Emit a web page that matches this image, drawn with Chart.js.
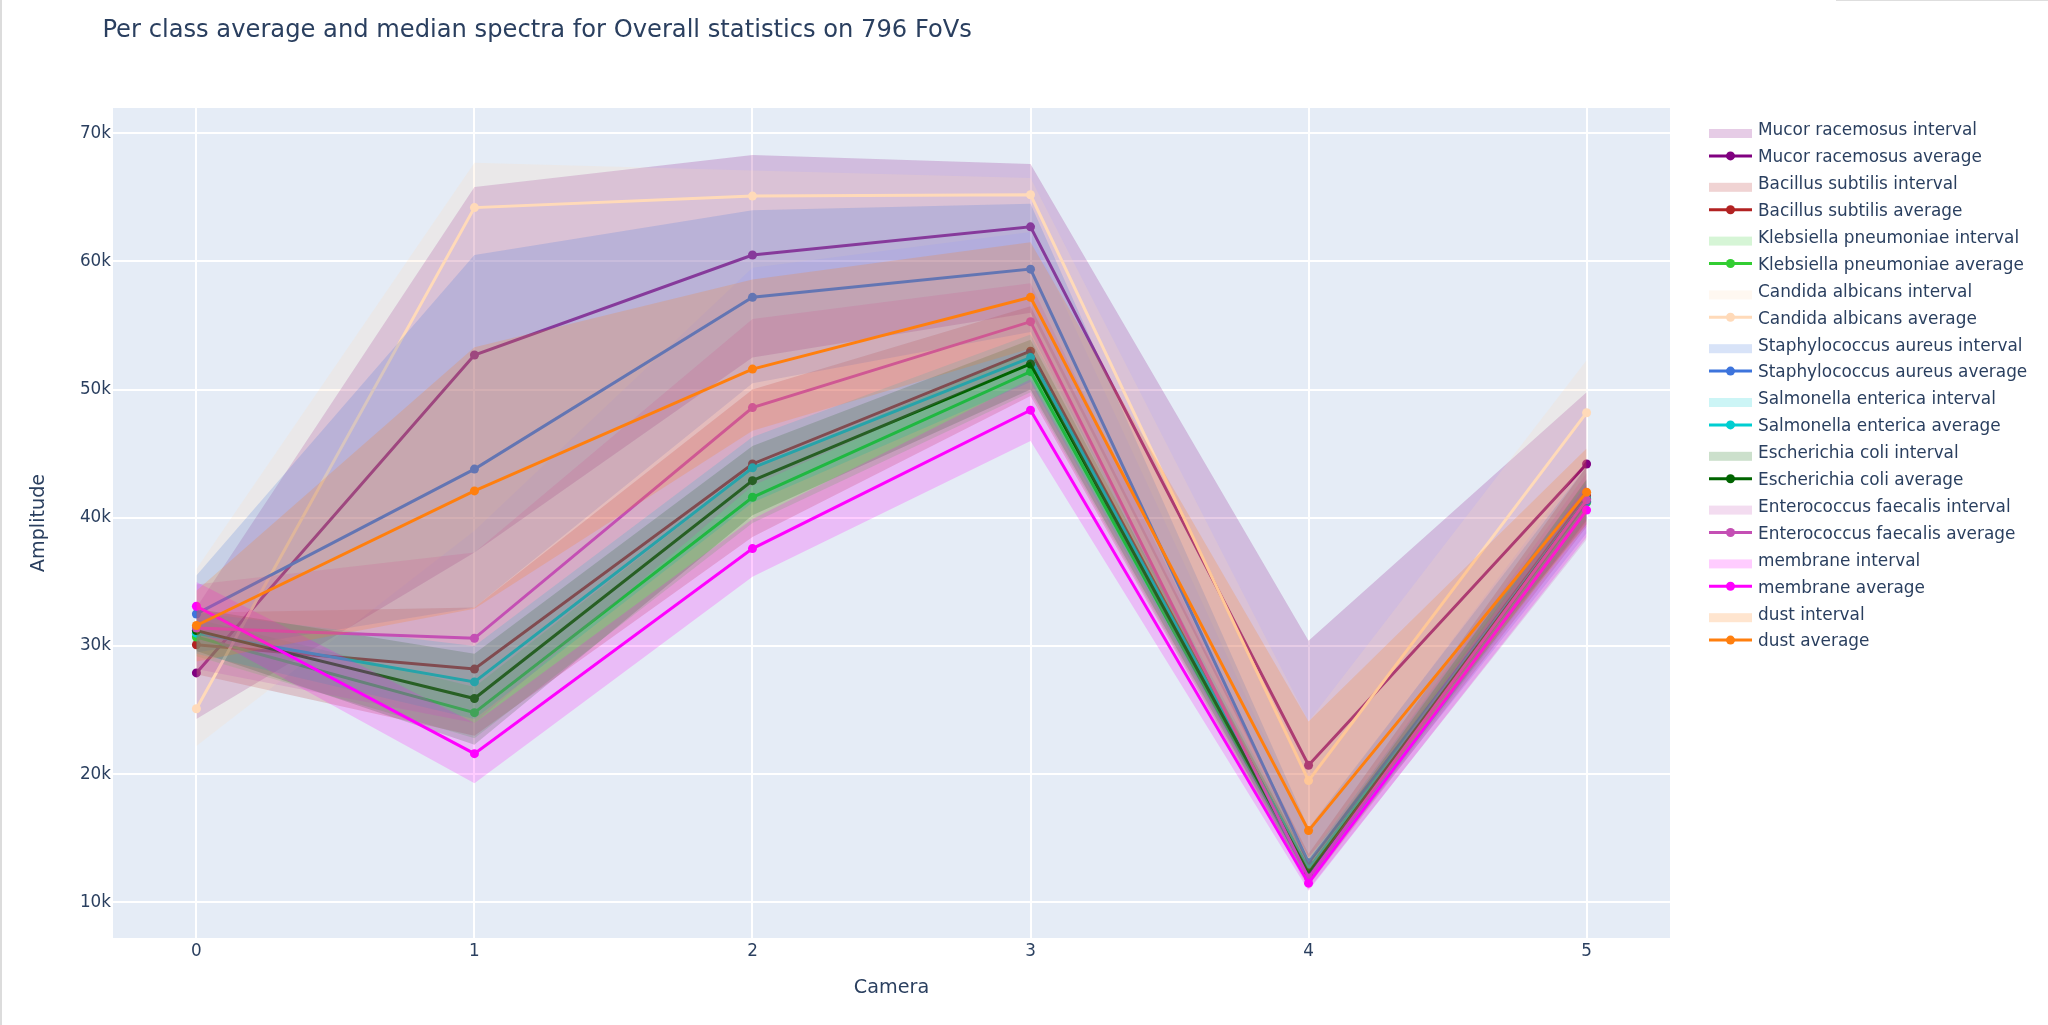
<!DOCTYPE html>
<html><head><meta charset="utf-8">
<script src="https://cdn.jsdelivr.net/npm/chart.js@4.4.1/dist/chart.umd.min.js"></script>
<style>
html,body{margin:0;padding:0;background:#fff;overflow:hidden;}
#wrap{position:relative;width:2048px;height:1025px;}
canvas{display:block;}
#lb{position:absolute;left:0;top:0;width:2px;height:1025px;background:#dcdcdc;}
#tr{position:absolute;left:1836px;top:0;width:212px;height:1px;background:#dedede;}
</style></head><body>
<div id="wrap"><canvas id="c" width="2048" height="1025"></canvas><div id="lb"></div><div id="tr"></div></div>
<script>
// ---------- data ----------
const chartTitle = 'Per class average and median spectra for Overall statistics on 796 FoVs';
const cameras = [0, 1, 2, 3, 4, 5];
const yTickValues = [10000, 20000, 30000, 40000, 50000, 60000, 70000];
const yTickLabels = ['10k', '20k', '30k', '40k', '50k', '60k', '70k'];

const classNames = ['Mucor racemosus', 'Bacillus subtilis', 'Klebsiella pneumoniae', 'Candida albicans',
  'Staphylococcus aureus', 'Salmonella enterica', 'Escherichia coli', 'Enterococcus faecalis', 'membrane', 'dust'];
const classColors = ['#800080', '#b22222', '#32cd32', '#ffdab9', '#3d74dc', '#00ced1', '#006400', '#c44fb4', '#ff00ff', '#ff7f0e'];

const mucorAvg  = [27900, 52700, 60500, 62700, 20700, 44200];
const mucorLow  = [24300, 37300, 52500, 56000, 13500, 39500];
const mucorHigh = [33000, 65800, 68300, 67600, 30400, 49800];

const bacillusAvg  = [30100, 28200, 44200, 53000, 12500, 41700];
const bacillusLow  = [27800, 23000, 38500, 49500, 11300, 39300];
const bacillusHigh = [32600, 33000, 50000, 56500, 13800, 44000];

const klebsiellaAvg  = [30700, 24800, 41600, 51400, 12100, 41200];
const klebsiellaLow  = [29200, 22800, 39600, 49800, 11400, 39700];
const klebsiellaHigh = [32100, 26800, 43800, 53000, 12800, 42600];

const candidaAvg  = [25100, 64200, 65100, 65200, 19500, 48200];
const candidaLow  = [22200, 39000, 59500, 62300, 15500, 44500];
const candidaHigh = [36000, 67700, 67100, 66500, 24100, 52300];

const staphAvg  = [32500, 43800, 57200, 59400, 13100, 41300];
const staphLow  = [29500, 33000, 50500, 54500, 11600, 38800];
const staphHigh = [35500, 60500, 64000, 64500, 15800, 44000];

const salmonellaAvg  = [31000, 27200, 43900, 52500, 12600, 41500];
const salmonellaLow  = [29400, 24300, 41200, 50600, 11800, 40000];
const salmonellaHigh = [32600, 30000, 46300, 54300, 13400, 42900];

const ecoliAvg  = [31200, 25900, 42900, 52000, 12300, 41400];
const ecoliLow  = [29600, 22300, 40200, 50000, 11600, 39800];
const ecoliHigh = [32900, 29400, 45600, 53900, 13100, 43000];

const enterococcusAvg  = [31400, 30600, 48600, 55300, 11900, 41400];
const enterococcusLow  = [28200, 24000, 42500, 52200, 11000, 38300];
const enterococcusHigh = [34800, 37300, 55500, 58300, 13200, 43500];

const membraneAvg  = [33100, 21600, 37600, 48400, 11500, 40600];
const membraneLow  = [31200, 19300, 35400, 46000, 10900, 38500];
const membraneHigh = [35000, 24000, 39900, 50800, 12200, 42700];

const dustAvg  = [31600, 42100, 51600, 57200, 15600, 42000];
const dustLow  = [28800, 32900, 46800, 53200, 12400, 39500];
const dustHigh = [34300, 53300, 58600, 61500, 24100, 45400];

const avgSeries  = [mucorAvg, bacillusAvg, klebsiellaAvg, candidaAvg, staphAvg, salmonellaAvg, ecoliAvg, enterococcusAvg, membraneAvg, dustAvg];
const lowSeries  = [mucorLow, bacillusLow, klebsiellaLow, candidaLow, staphLow, salmonellaLow, ecoliLow, enterococcusLow, membraneLow, dustLow];
const highSeries = [mucorHigh, bacillusHigh, klebsiellaHigh, candidaHigh, staphHigh, salmonellaHigh, ecoliHigh, enterococcusHigh, membraneHigh, dustHigh];

// ---------- styling helpers ----------
const FONT = '"DejaVu Sans", Verdana, sans-serif';
const TXT = '#2a3f5f';
function rgba(hex, a) {
  const n = parseInt(hex.slice(1), 16);
  return `rgba(${(n >> 16) & 255},${(n >> 8) & 255},${n & 255},${a})`;
}
const pts = arr => arr.map((v, i) => ({x: cameras[i], y: v}));

const datasets = [];
classNames.forEach((name, k) => {
  const col = classColors[k];
  datasets.push({label: name + ' interval (lower)', data: pts(lowSeries[k]), borderWidth: 0, borderColor: 'rgba(0,0,0,0)',
    pointRadius: 0, fill: false, order: 1000 - 3 * k});
  datasets.push({label: name + ' interval', data: pts(highSeries[k]), borderWidth: 0, borderColor: 'rgba(0,0,0,0)',
    backgroundColor: rgba(col, 0.2), pointRadius: 0, fill: '-1', order: 999 - 3 * k});
  datasets.push({label: name + ' average', data: pts(avgSeries[k]), borderColor: col, backgroundColor: col,
    borderWidth: 3, pointRadius: 4.5, pointBorderWidth: 0, pointBackgroundColor: col, fill: false, order: 998 - 3 * k});
});

const bgPlugin = {
  id: 'bg',
  beforeDraw(chart) {
    const {ctx, chartArea: a} = chart;
    ctx.save();
    ctx.fillStyle = '#ffffff';
    ctx.fillRect(0, 0, chart.width, chart.height);
    ctx.fillStyle = '#e5ecf6';
    ctx.fillRect(a.left, a.top, a.right - a.left, a.bottom - a.top);
    ctx.restore();
  }
};

const overlayPlugin = {
  id: 'overlay',
  afterDraw(chart) {
    const ctx = chart.ctx;
    ctx.save();
    // title
    ctx.fillStyle = TXT;
    ctx.font = `24.2px ${FONT}`;
    ctx.textBaseline = 'alphabetic';
    ctx.textAlign = 'left';
    ctx.fillText(chartTitle, 102.4, 36.6);
    // legend
    ctx.font = `16.9px ${FONT}`;
    classNames.forEach((name, k) => {
      const col = classColors[k];
      const cy1 = 129 + 26.9 * (2 * k);
      const cy2 = 129 + 26.9 * (2 * k + 1);
      ctx.fillStyle = rgba(col, 0.2);
      ctx.fillRect(1709, cy1, 43, 9);
      ctx.strokeStyle = col;
      ctx.lineWidth = 3;
      ctx.beginPath();
      ctx.moveTo(1709, cy2);
      ctx.lineTo(1752, cy2);
      ctx.stroke();
      ctx.fillStyle = col;
      ctx.beginPath();
      ctx.arc(1730.5, cy2, 4.5, 0, Math.PI * 2);
      ctx.fill();
      ctx.fillStyle = TXT;
      ctx.fillText(name + ' interval', 1758, cy1 + 6.3);
      ctx.fillText(name + ' average', 1758, cy2 + 6.3);
    });
    ctx.restore();
  }
};

new Chart(document.getElementById('c'), {
  type: 'line',
  data: {datasets},
  plugins: [bgPlugin, overlayPlugin],
  options: {
    responsive: false,
    animation: false,
    devicePixelRatio: 1,
    events: [],
    layout: {padding: {top: 108, right: 378, bottom: 0, left: 0}},
    elements: {line: {tension: 0}},
    plugins: {
      legend: {display: false},
      tooltip: {enabled: false},
      title: {display: false},
      filler: {drawTime: 'beforeDatasetDraw', propagate: false}
    },
    scales: {
      x: {
        type: 'linear', min: -0.3, max: 5.3,
        afterBuildTicks: s => { s.ticks = cameras.map(v => ({value: v})); },
        afterFit: s => { s.height = 87; },
        ticks: {font: {family: FONT, size: 16.8}, color: TXT, padding: 4, maxRotation: 0, autoSkip: false,
          callback: v => String(v)},
        grid: {color: '#ffffff', lineWidth: 2, drawTicks: false},
        border: {display: false},
        title: {display: true, text: 'Camera', color: TXT, font: {family: FONT, size: 19.2}, padding: {top: 0, bottom: 25}}
      },
      y: {
        type: 'linear', min: 7220, max: 71970,
        afterBuildTicks: s => { s.ticks = yTickValues.map(v => ({value: v})); },
        afterFit: s => { s.width = 113; },
        ticks: {font: {family: FONT, size: 16.8}, color: TXT, padding: 2, autoSkip: false,
          callback: v => yTickLabels[yTickValues.indexOf(v)]},
        grid: {color: '#ffffff', lineWidth: 2, drawTicks: false},
        border: {display: false},
        title: {display: true, text: 'Amplitude', color: TXT, font: {family: FONT, size: 19.2}, padding: {top: 27.7, bottom: 0}}
      }
    }
  }
});
</script>
</body></html>
